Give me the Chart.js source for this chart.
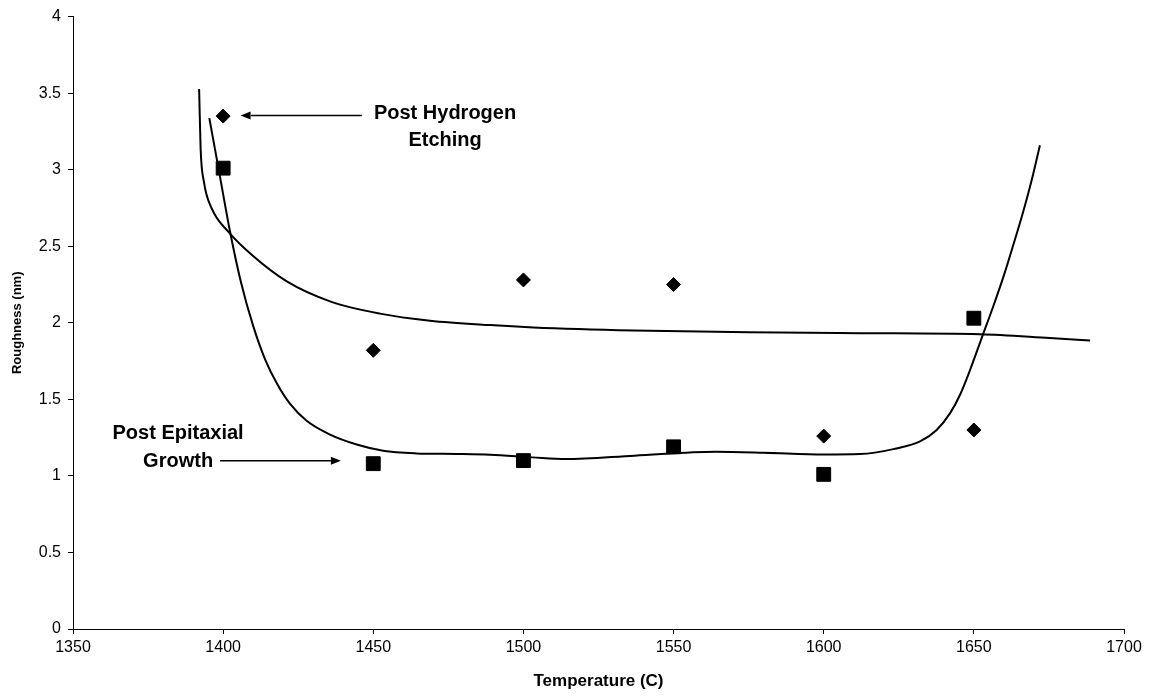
<!DOCTYPE html>
<html>
<head>
<meta charset="utf-8">
<script src="https://cdn.jsdelivr.net/npm/chart.js@4.4.0/dist/chart.umd.min.js"></script>
<style>
html,body{margin:0;padding:0;background:#fff;}
#wrap{width:1152px;height:698px;position:relative;}
</style>
</head>
<body>
<div id="wrap"><canvas id="c" width="1152" height="698"></canvas></div>
<script>
// ---- data ----
const xTicks = [1350, 1400, 1450, 1500, 1550, 1600, 1650, 1700];
const yTicks = [0, 0.5, 1, 1.5, 2, 2.5, 3, 3.5, 4];

const temperatures = [1400, 1450, 1500, 1550, 1600, 1650];
const hydrogenEtching = [3.35, 1.82, 2.28, 2.25, 1.26, 1.30];
const epitaxialGrowth = [3.01, 1.08, 1.10, 1.19, 1.01, 2.03];

// trend lines
const hydrogenTrendX = [1392.0, 1392.5, 1393.6, 1396.2, 1401.7, 1409.5, 1421.2, 1435.6, 1452.2, 1468.9, 1488.9, 1503.3, 1536.6, 1575, 1612, 1652, 1675.3, 1688.7];
const hydrogenTrendY = [3.527, 3.137, 2.92, 2.747, 2.595, 2.444, 2.27, 2.14, 2.06, 2.014, 1.985, 1.97, 1.950, 1.938, 1.932, 1.925, 1.90, 1.884];

const epitaxialTrendX = [1395.4, 1398.9, 1402.3, 1406.0, 1410.0, 1414.0, 1418.0, 1422.3, 1427.8, 1435.6, 1444.5, 1453.3, 1464.4, 1477.8, 1488.9, 1503, 1514, 1537, 1564, 1580, 1600, 1612.1, 1623.2, 1632.1, 1637.6, 1642.1, 1645.4, 1648.7, 1652.6, 1656.5, 1660, 1663, 1666.5, 1669.5, 1672];
const epitaxialTrendY = [3.337, 2.96, 2.595, 2.26, 1.98, 1.76, 1.60, 1.47, 1.36, 1.27, 1.205, 1.164, 1.147, 1.143, 1.138, 1.121, 1.11, 1.132, 1.158, 1.152, 1.14, 1.143, 1.175, 1.225, 1.30, 1.41, 1.53, 1.69, 1.90, 2.11, 2.31, 2.50, 2.73, 2.95, 3.16];

const noteTexts = [["Post Hydrogen", "Etching"], ["Post Epitaxial", "Growth"]];

// ---- annotation placement (data coordinates) ----
const notePlaces = [{x: 1473.9, y: 3.369}, {x: 1385.0, y: 1.275}];
const arrowPlaces = [
  {from: [1446.2, 3.354], to: [1405.8, 3.354]},
  {from: [1399.0, 1.099], to: [1439.2, 1.099]}
];

const FAMILY = '"Liberation Sans", Arial, Helvetica, sans-serif';
Chart.defaults.font.family = FAMILY;
Chart.defaults.color = '#000';

const zip = (xs, ys) => xs.map((v, i) => ({x: v, y: ys[i]}));

const notesPlugin = {
  id: 'notes',
  afterDatasetsDraw(chart) {
    const {ctx, scales: {x, y}} = chart;
    ctx.save();
    ctx.fillStyle = '#000';
    ctx.strokeStyle = '#000';
    ctx.font = 'bold 20px ' + FAMILY;
    ctx.textAlign = 'center';
    ctx.textBaseline = 'middle';
    noteTexts.forEach((lines, k) => {
      const px = x.getPixelForValue(notePlaces[k].x);
      const py = y.getPixelForValue(notePlaces[k].y);
      lines.forEach((t, i) => ctx.fillText(t, px, py + i * 27.5));
    });
    arrowPlaces.forEach(a => {
      const x0 = x.getPixelForValue(a.from[0]), y0 = y.getPixelForValue(a.from[1]);
      const x1 = x.getPixelForValue(a.to[0]), y1 = y.getPixelForValue(a.to[1]);
      const ang = Math.atan2(y1 - y0, x1 - x0);
      const c = Math.cos(ang), s = Math.sin(ang);
      const L = 10, W = 4;
      ctx.lineWidth = 1.6;
      ctx.beginPath();
      ctx.moveTo(x0, y0);
      ctx.lineTo(x1 - L * c, y1 - L * s);
      ctx.stroke();
      ctx.beginPath();
      ctx.moveTo(x1, y1);
      ctx.lineTo(x1 - L * c - W * s, y1 - L * s + W * c);
      ctx.lineTo(x1 - L * c + W * s, y1 - L * s - W * c);
      ctx.closePath();
      ctx.fill();
    });
    ctx.restore();
  }
};

new Chart(document.getElementById('c'), {
  type: 'scatter',
  data: {
    datasets: [
      {
        label: 'Post Hydrogen Etching',
        data: zip(temperatures, hydrogenEtching),
        pointStyle: 'rectRot',
        pointRadius: 7,
        pointBorderWidth: 1,
        backgroundColor: '#000',
        borderColor: '#000',
        order: 1
      },
      {
        label: 'Post Epitaxial Growth',
        data: zip(temperatures, epitaxialGrowth),
        pointStyle: 'rect',
        pointRadius: 9.8,
        pointBorderWidth: 1,
        backgroundColor: '#000',
        borderColor: '#000',
        order: 1
      },
      {
        type: 'line',
        label: 'Hydrogen trend',
        data: zip(hydrogenTrendX, hydrogenTrendY),
        showLine: true,
        pointRadius: 0,
        borderColor: '#000',
        borderWidth: 2,
        cubicInterpolationMode: 'monotone',
        fill: false,
        order: 2
      },
      {
        type: 'line',
        label: 'Epitaxial trend',
        data: zip(epitaxialTrendX, epitaxialTrendY),
        showLine: true,
        pointRadius: 0,
        borderColor: '#000',
        borderWidth: 2,
        cubicInterpolationMode: 'monotone',
        fill: false,
        order: 2
      }
    ]
  },
  options: {
    responsive: false,
    animation: false,
    devicePixelRatio: 1,
    layout: {padding: {left: 0, right: 28, top: 14, bottom: 0}},
    plugins: {legend: {display: false}, tooltip: {enabled: false}},
    scales: {
      x: {
        type: 'linear',
        min: 1350, max: 1700,
        afterBuildTicks: s => { s.ticks = xTicks.map(v => ({value: v})); },
        afterFit: s => { s.height = 69; },
        ticks: {callback: v => String(v), font: {size: 16}, color: '#000', padding: 4, maxRotation: 0, autoSkip: false},
        grid: {display: true, drawOnChartArea: false, drawTicks: true, tickLength: 5, color: '#000', lineWidth: 1},
        border: {display: true, color: '#000', width: 1},
        title: {display: true, text: 'Temperature (C)', font: {size: 17, weight: 'bold'}, color: '#000', padding: {top: 0, bottom: 6}}
      },
      y: {
        type: 'linear',
        min: 0, max: 4,
        afterBuildTicks: s => { s.ticks = yTicks.map(v => ({value: v})); },
        afterFit: s => { s.width = 73; },
        ticks: {callback: v => String(v), font: {size: 16}, color: '#000', padding: 7, autoSkip: false},
        grid: {display: true, drawOnChartArea: false, drawTicks: true, tickLength: 5, color: '#000', lineWidth: 1},
        border: {display: true, color: '#000', width: 1},
        title: {display: true, text: 'Roughness (nm)', font: {size: 13, weight: 'bold'}, color: '#000', padding: {top: 10, bottom: 0}}
      }
    }
  },
  plugins: [notesPlugin]
});
</script>
</body>
</html>
